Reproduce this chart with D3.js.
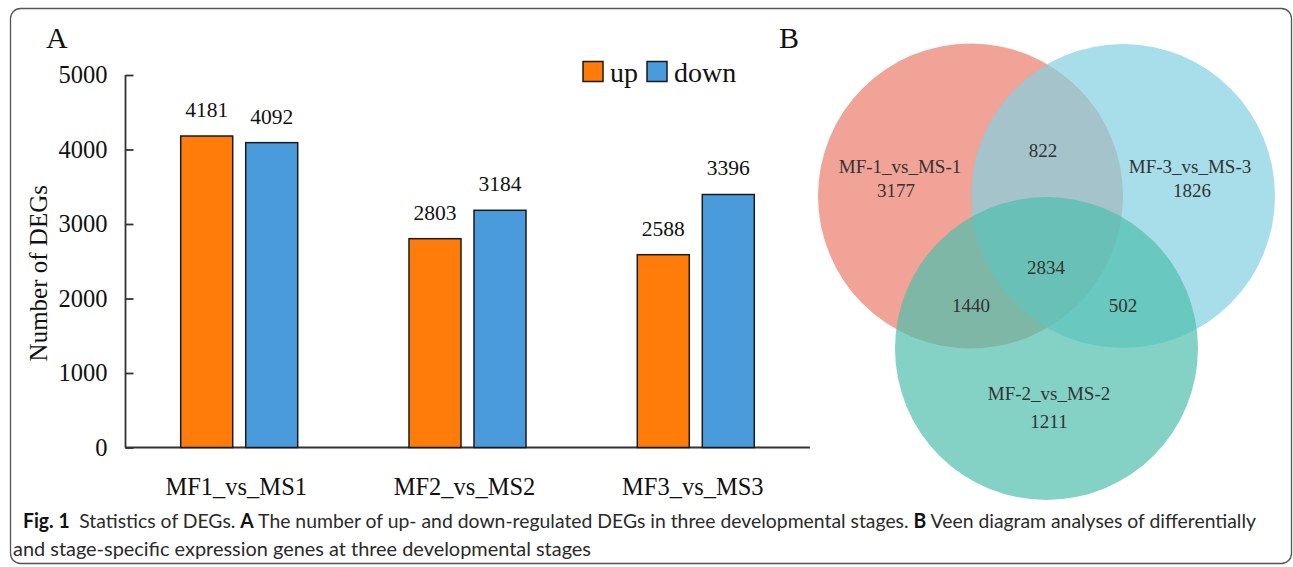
<!DOCTYPE html>
<html>
<head>
<meta charset="utf-8">
<script src="https://cdn.jsdelivr.net/npm/d3@7"></script>
<style>
  html, body { margin: 0; padding: 0; background: #fff; }
  svg { display: block; }
</style>
</head>
<body>
<svg id="fig" width="1293" height="567"></svg>
<script>
// ---- Panel A: DEG counts per comparison ----
const categories = ["MF1_vs_MS1", "MF2_vs_MS2", "MF3_vs_MS3"];
const seriesNames = ["up", "down"];
const upValues = [4181, 2803, 2588];
const downValues = [4092, 3184, 3396];
const yTicks = [0, 1000, 2000, 3000, 4000, 5000];

// ---- Panel B: Venn diagram ----
const vennSets = ["MF-1_vs_MS-1", "MF-2_vs_MS-2", "MF-3_vs_MS-3"];
const vennOnly = [3177, 1211, 1826];          // unique to each set
const vennPairs = [["1&3", 822], ["1&2", 1440], ["2&3", 502]];
const vennAll = 2834;

// caption
const captionLine1 = [
  {t: "Fig. 1", b: true}, {t: "\u2002Statistics of DEGs. ", b: false},
  {t: "A", b: true}, {t: " The number of up- and down-regulated DEGs in three developmental stages. ", b: false},
  {t: "B", b: true}, {t: " Veen diagram analyses of differentially", b: false}
];
const captionLine2 = "and stage-specific expression genes at three developmental stages";

const svg = d3.select("#fig");
const serif = "'Liberation Serif', 'Times New Roman', serif";
const colors = {up: "#FF7B0A", down: "#4A9BDB"};

// outer frame
svg.append("rect")
  .attr("x", 10.5).attr("y", 8.5).attr("width", 1281).attr("height", 555)
  .attr("rx", 10).attr("ry", 10)
  .attr("fill", "none").attr("stroke", "#555").attr("stroke-width", 1.3);

// ---------- bar chart ----------
const x0 = d3.scaleBand().domain(categories).range([125, 810])
  .paddingInner(0.4875).paddingOuter(0.244);
const x1 = d3.scaleBand().domain(seriesNames).range([0, x0.bandwidth()]).paddingInner(0.2);
const y = d3.scaleLinear().domain([0, 5000]).range([447.5, 75]);

const rows = categories.map((c, i) => ({cat: c, up: upValues[i], down: downValues[i]}));

const gA = svg.append("g");

gA.append("text").attr("x", 46).attr("y", 48)
  .attr("font-family", serif).attr("font-size", 30).attr("fill", "#111").text("A");

// y axis
const yAxis = d3.axisLeft(y).tickValues(yTicks).tickSize(-8).tickPadding(18)
  .tickFormat(d3.format("d"));
const gy = gA.append("g").attr("transform", "translate(125.5,0)").call(yAxis);
gy.select(".domain").attr("stroke", "#333").attr("stroke-width", 1.8).attr("d", `M0,${y(5000)}V${y(0)}`);
gy.selectAll(".tick line").attr("stroke", "#333").attr("stroke-width", 1.8);
gy.selectAll(".tick text").attr("font-family", serif).attr("font-size", 24.5).attr("fill", "#111");

// x axis baseline
const xAxis = d3.axisBottom(x0).tickSize(0).tickPadding(30);
const gx = gA.append("g").attr("transform", `translate(0,${y(0)})`).call(xAxis);
gx.select(".domain").attr("stroke", "#333").attr("stroke-width", 2).attr("d", "M125,0H810");
gx.selectAll(".tick text").attr("font-family", serif).attr("font-size", 24.5)
  .attr("fill", "#111").attr("dx", -3);

gA.append("text")
  .attr("transform", `translate(47,${(y(0) + y(5000)) / 2 + 12}) rotate(-90)`)
  .attr("text-anchor", "middle")
  .attr("font-family", serif).attr("font-size", 25).attr("fill", "#111")
  .text("Number of DEGs");

// bars
const groups = gA.selectAll(".grp").data(rows).join("g")
  .attr("transform", d => `translate(${x0(d.cat)},0)`);
groups.selectAll("rect").data(d => seriesNames.map(k => ({k, v: d[k]}))).join("rect")
  .attr("x", d => x1(d.k)).attr("width", x1.bandwidth())
  .attr("y", d => y(d.v)).attr("height", d => y(0) - y(d.v))
  .attr("fill", d => colors[d.k]).attr("stroke", "#1a1a1a").attr("stroke-width", 1.5);
groups.selectAll("text.val").data(d => seriesNames.map(k => ({k, v: d[k]}))).join("text")
  .attr("class", "val")
  .attr("x", d => x1(d.k) + x1.bandwidth() / 2).attr("y", d => y(d.v) - 19)
  .attr("text-anchor", "middle")
  .attr("font-family", serif).attr("font-size", 21.5).attr("fill", "#111")
  .text(d => d.v);

// legend
const legend = gA.append("g");
const legX = [583, 647];
seriesNames.forEach((k, i) => {
  legend.append("rect").attr("x", legX[i]).attr("y", 61.5).attr("width", 20).attr("height", 20)
    .attr("fill", colors[k]).attr("stroke", "#1a1a1a").attr("stroke-width", 1.5);
  legend.append("text").attr("x", legX[i] + 27).attr("y", 82)
    .attr("font-family", serif).attr("font-size", 28).attr("fill", "#111").text(k);
});

// ---------- Venn diagram ----------
const gB = svg.append("g");
gB.append("text").attr("x", 779).attr("y", 48)
  .attr("font-family", serif).attr("font-size", 30).attr("fill", "#111").text("B");

const circles = [
  {cx: 970.5, cy: 196, r: 152.5, fill: "#EA7C6A"},
  {cx: 1123, cy: 196, r: 152, fill: "#83D0E1"},
  {cx: 1046.5, cy: 348.5, r: 151.5, fill: "#4FBFAC"}
];
gB.selectAll("circle").data(circles).join("circle")
  .attr("cx", d => d.cx).attr("cy", d => d.cy).attr("r", d => d.r)
  .attr("fill", d => d.fill).attr("fill-opacity", 0.7);

const vennText = [
  {x: 900, y: 173, t: vennSets[0]}, {x: 896, y: 197, t: vennOnly[0]},
  {x: 1190, y: 173, t: vennSets[2]}, {x: 1192, y: 197, t: vennOnly[2]},
  {x: 1049, y: 400, t: vennSets[1]}, {x: 1049, y: 428, t: vennOnly[1]},
  {x: 1043, y: 157, t: vennPairs[0][1]},
  {x: 971, y: 312, t: vennPairs[1][1]},
  {x: 1123, y: 312, t: vennPairs[2][1]},
  {x: 1046, y: 274, t: vennAll}
];
gB.selectAll("text.vl").data(vennText).join("text")
  .attr("class", "vl")
  .attr("x", d => d.x).attr("y", d => d.y).attr("text-anchor", "middle")
  .attr("font-family", serif).attr("font-size", 19).attr("fill", "#333")
  .text(d => d.t);

// ---------- caption ----------
const capFont = "Lato, 'Open Sans', sans-serif";
const cap1 = svg.append("text").attr("x", 23).attr("y", 528)
  .attr("font-family", capFont).attr("font-size", 20).attr("fill", "#2a2a2a");
captionLine1.forEach(p => {
  cap1.append("tspan").attr("font-weight", p.b ? 700 : 400)
    .attr("fill", p.b ? "#111" : "#2a2a2a").text(p.t);
});
cap1.attr("textLength", 1233).attr("lengthAdjust", "spacingAndGlyphs");

const cap2 = svg.append("text").attr("x", 13).attr("y", 556)
  .attr("font-family", capFont).attr("font-size", 20).attr("fill", "#2a2a2a")
  .text(captionLine2);
cap2.attr("textLength", 578).attr("lengthAdjust", "spacingAndGlyphs");
</script>
</body>
</html>
